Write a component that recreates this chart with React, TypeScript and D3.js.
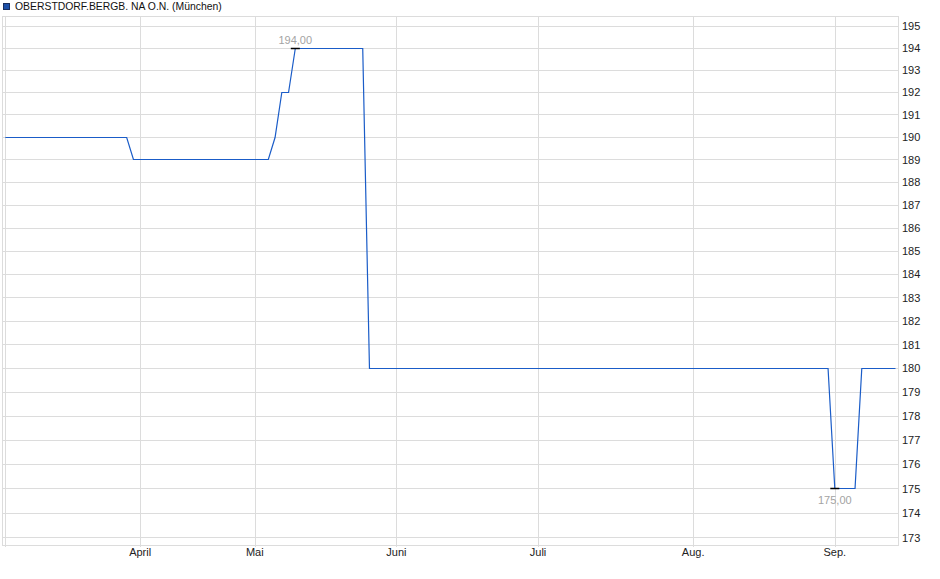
import React, { useEffect, useRef } from "react";
import * as d3 from "d3";

// trading-day index of each change point
const dayIndex = [0, 18, 19, 39, 40, 41, 42, 43, 53, 54, 122, 123, 126, 127, 132];
const closeValues = [190, 190, 189, 189, 190, 192, 192, 194, 194, 180, 180, 175, 175, 180, 180];

const monthLabels = ["April", "Mai", "Juni", "Juli", "Aug.", "Sep."];
const monthStartIndex = [20, 37, 58, 79, 102, 123];

const yTickValues = [
  173, 174, 175, 176, 177, 178, 179, 180, 181, 182, 183, 184,
  185, 186, 187, 188, 189, 190, 191, 192, 193, 194, 195,
];

const seriesName = "OBERSTDORF.BERGB. NA O.N. (München)";

const App: React.FC = () => {
  const svgRef = useRef<any>();

  useEffect(() => {
    const width = 940;
    const height = 579;
    const left = 2.5;
    const right = 898.5;
    const top = 16;
    const bottom = 545;

    const points = dayIndex.map((d, i) => ({ i: d, v: closeValues[i] }));

    const x = d3.scaleLinear().domain([0, 132]).range([5.3, 895.5]);
    const y = d3.scaleLog().domain([173, 195]).range([537.3, 25.7]);

    const svg = d3
      .select(svgRef.current)
      .attr("width", width)
      .attr("height", height)
      .attr("style", "position:absolute;left:0;top:0;font-family:'Liberation Sans', Arial, sans-serif;font-size:11px;");
    svg.selectAll("*").remove();

    const grid = svg.append("g").attr("stroke", "#dcdcdc").attr("shape-rendering", "crispEdges");

    // horizontal grid
    grid
      .selectAll()
      .data(yTickValues)
      .join("line")
      .attr("x1", left)
      .attr("x2", right)
      .attr("y1", (d) => Math.round(y(d)) + 0.5)
      .attr("y2", (d) => Math.round(y(d)) + 0.5);

    // vertical month grid + first day line
    grid
      .selectAll()
      .data([0, ...monthStartIndex])
      .join("line")
      .attr("x1", (d) => Math.round(x(d)) + 0.5)
      .attr("x2", (d) => Math.round(x(d)) + 0.5)
      .attr("y1", top)
      .attr("y2", bottom + 2);

    // frame
    grid
      .append("rect")
      .attr("x", left)
      .attr("y", top + 0.5)
      .attr("width", right - left)
      .attr("height", bottom - top)
      .attr("fill", "none");

    // y labels (right)
    svg
      .append("g")
      .attr("fill", "#222")
      .selectAll()
      .data(yTickValues)
      .join("text")
      .attr("x", 902)
      .attr("y", (d) => y(d) + 4.5)
      .text((d) => d);

    // x labels
    svg
      .append("g")
      .attr("fill", "#222")
      .attr("text-anchor", "middle")
      .selectAll()
      .data(monthStartIndex)
      .join("text")
      .attr("x", (d) => x(d))
      .attr("y", 556)
      .text((d, i) => monthLabels[i]);

    // price line
    const line = d3
      .line<{ i: number; v: number }>()
      .x((d) => x(d.i))
      .y((d) => Math.round(y(d.v)) + 0.5);

    svg
      .append("path")
      .datum(points)
      .attr("fill", "none")
      .attr("stroke", "#1a5cc8")
      .attr("stroke-width", 1.2)
      .attr("d", line);

    // high / low markers
    const hi = points.reduce((a, b) => (b.v > a.v ? b : a));
    const lo = points.reduce((a, b) => (b.v < a.v ? b : a));

    [hi, lo].forEach((p, k) => {
      const px = x(p.i);
      const py = Math.round(y(p.v)) + 0.5;
      svg
        .append("line")
        .attr("x1", px - 4.5)
        .attr("x2", px + 4.5)
        .attr("y1", py)
        .attr("y2", py)
        .attr("stroke", "#000")
        .attr("stroke-width", 1.5);
      svg
        .append("text")
        .attr("x", px)
        .attr("y", k === 0 ? py - 5 : py + 15)
        .attr("text-anchor", "middle")
        .attr("fill", "#a3a3a3")
        .text(p.v.toFixed(2).replace(".", ","));
    });

    // legend
    svg
      .append("rect")
      .attr("x", 3.5)
      .attr("y", 3.5)
      .attr("width", 6)
      .attr("height", 6)
      .attr("fill", "#1d50a8")
      .attr("stroke", "#1a2f5e");
    svg
      .append("text")
      .attr("x", 15)
      .attr("y", 10)
      .attr("fill", "#111")
      .attr("font-size", 10.4)
      .text(seriesName);
  }, []);

  return <svg ref={svgRef}></svg>;
};

export default App;
